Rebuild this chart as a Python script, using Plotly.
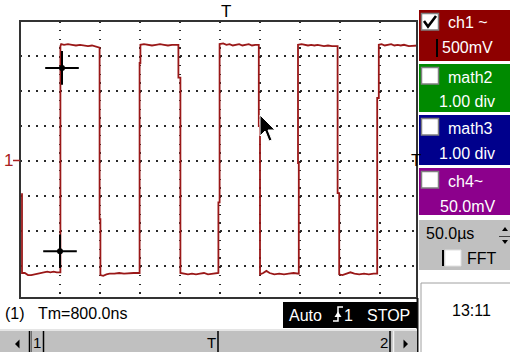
import plotly.graph_objects as go

# ---- Channel 1 acquisition: time in µs, amplitude in V ----
time_us = [
    2.5, 2.5, 6, 10, 14, 18, 22, 26, 30, 34, 38, 42, 46, 50.5,
    50.5, 51.5, 55, 60, 65, 70, 75, 80, 85, 90, 95, 99.5,
    99.5, 100.5, 100.5, 104, 108, 112, 118, 124, 130, 136, 142, 149.5,
    149.5, 150.5, 150.5, 155, 160, 165, 170, 175, 180, 185, 190, 198,
    198, 200.5, 200.5, 205, 210, 215, 220, 225, 230, 235, 240, 248,
    248, 249.5, 249.5, 254, 258, 262, 266, 270, 274, 278, 282, 286, 290, 294, 298.5,
    298.5, 300, 300, 304, 308, 312, 318, 324, 330, 336, 342, 348.5,
    348.5, 347.5, 347.5, 352, 356, 360, 364, 368, 372, 376, 380, 385, 390, 397,
    397, 399, 399, 403, 408, 413, 418, 424, 430, 436, 442, 446.5,
    446.5, 448.5, 448.5, 452, 456, 460, 464, 468, 472, 476, 480, 486, 492, 497.5,
]
ch1_volts = [
    -0.46, -1.60, -1.60, -1.63, -1.63, -1.62, -1.61, -1.59, -1.59, -1.58, -1.59, -1.58, -1.59, -1.59,
    1.64, 1.67, 1.66, 1.67, 1.66, 1.65, 1.66, 1.65, 1.64, 1.65, 1.63, 1.62,
    -0.83, -0.83, -1.63, -1.64, -1.62, -1.61, -1.61, -1.60, -1.61, -1.60, -1.60, -1.60,
    1.40, 1.40, 1.66, 1.67, 1.66, 1.65, 1.66, 1.67, 1.66, 1.65, 1.66, 1.66,
    1.19, 1.19, -1.60, -1.61, -1.62, -1.61, -1.62, -1.61, -1.60, -1.62, -1.61, -1.60,
    -0.59, -0.59, 1.67, 1.68, 1.66, 1.67, 1.65, 1.66, 1.67, 1.65, 1.66, 1.67, 1.65, 1.66, 1.66,
    0.50, 0.50, -1.62, -1.60, -1.57, -1.60, -1.62, -1.61, -1.62, -1.61, -1.60, -1.61,
    -0.03, -0.03, 1.66, 1.67, 1.66, 1.65, 1.66, 1.65, 1.66, 1.65, 1.64, 1.65, 1.64, 1.64,
    -0.46, -0.46, -1.62, -1.63, -1.61, -1.59, -1.61, -1.62, -1.61, -1.62, -1.61, -1.61,
    0.90, 0.90, 1.66, 1.67, 1.65, 1.66, 1.67, 1.65, 1.66, 1.65, 1.66, 1.64, 1.65, 1.65,
]

# measurement cursors (time µs, level V)
cursor_time_us = [52.5, 50.0]
cursor_volts = [1.33, -1.29]

# side-panel channel settings
channel_labels = ["ch1 ~", "math2", "math3", "ch4~"]
channel_scales = ["500mV", "1.00 div", "1.00 div", "50.0mV"]
channel_colors = ["#8e0000", "#008a00", "#00008c", "#8c008c"]
channel_checked = [True, False, False, False]

timebase = "50.0µs"
clock = "13:11"
measurement = "Tm=800.0ns"
trigger_mode = "Auto"
run_state = "STOP"

TIME_PER_DIV = 50.0
VOLTS_PER_DIV = 0.5

# ---- page geometry (pixels) ----
W, H = 510, 352
PL, PT, PW, PH = 20, 21, 398, 278
PX_PER_US = 0.8
PX_PER_V = 70.0
FONT = "Liberation Sans, Arial, sans-serif"


def P(x, y):
    """page pixel -> paper coordinates"""
    return (x - PL) / PW, (PT + PH - y) / PH


shapes = []
annotations = []


def rect(x0, y0, x1, y1, fill, line="rgba(0,0,0,0)", lw=0):
    a, b = P(x0, y1)
    c, d = P(x1, y0)
    shapes.append(dict(type="rect", xref="paper", yref="paper", x0=a, y0=b, x1=c, y1=d,
                       fillcolor=fill, line=dict(color=line, width=lw), layer="above"))


def seg(x0, y0, x1, y1, color, w):
    a, b = P(x0, y0)
    c, d = P(x1, y1)
    shapes.append(dict(type="line", xref="paper", yref="paper", x0=a, y0=b, x1=c, y1=d,
                       line=dict(color=color, width=w), layer="above"))


def poly(points, fill, line="rgba(0,0,0,0)", lw=0, closed=True):
    path = ""
    for i, (x, y) in enumerate(points):
        u, v = P(x, y)
        path += ("M" if i == 0 else "L") + f"{u:.5f},{v:.5f}"
    if closed:
        path += "Z"
    shapes.append(dict(type="path", xref="paper", yref="paper", path=path,
                       fillcolor=fill, line=dict(color=line, width=lw), layer="above"))


def label(x, y, text, size, color="black", anchor="left"):
    u, v = P(x, y)
    annotations.append(dict(xref="paper", yref="paper", x=u, y=v, text=text, showarrow=False,
                            xanchor=anchor, yanchor="middle", borderpad=0,
                            font=dict(family=FONT, size=size, color=color)))


fig = go.Figure()

# waveform
fig.add_trace(go.Scatter(x=time_us, y=ch1_volts, mode="lines",
                         line=dict(color="#9a1818", width=1.8), hoverinfo="skip"))
# cursors
fig.add_trace(go.Scatter(x=cursor_time_us, y=cursor_volts, mode="markers",
                         marker=dict(symbol="cross-thin", size=24,
                                     line=dict(color="black", width=2)), hoverinfo="skip"))
fig.add_trace(go.Scatter(x=cursor_time_us, y=cursor_volts, mode="markers",
                         marker=dict(symbol="circle", size=6, color="black"), hoverinfo="skip"))

# screen frame
rect(20, 21, 417, 298, "rgba(0,0,0,0)", "#333333", 2)
seg(417.5, 298, 417.5, 352, "#111111", 2)

# trigger markers and channel ground marker
label(220, 12, "T", 17)
label(410, 160.5, "T", 17)
label(8, 160.5, "1", 17, "#a82020", "center")
seg(13, 160.5, 20, 160.5, "#a82020", 1.5)

# mouse pointer (tip on the trace)
tip_x = PL + 300 * PX_PER_US
tip_y = PT + (2.0 - 0.657) * PX_PER_V
arrow = [(0, 0), (0, 21), (5, 16), (9, 26), (12, 25), (8, 15), (15, 15)]
poly([(tip_x + dx, tip_y + dy) for dx, dy in arrow], "black", "white", 1)

# ---- channel boxes ----
box_tops = [10, 64, 115, 168]
box_bottoms = [61, 112, 165, 215]
for lab, scale, col, chk, top, bot in zip(channel_labels, channel_scales, channel_colors,
                                          channel_checked, box_tops, box_bottoms):
    rect(419, top, 511, bot, col)
    rect(421.5, top + 3.5, 438.5, top + 20, "white", "#808080", 1.5)
    if chk:
        poly([(424, top + 11), (428, top + 16.5), (436, top + 6)], "rgba(0,0,0,0)",
             "black", 2.6, closed=False)
    label(447, top + 13, lab, 16, "white")
    label(467, top + 38, scale, 16, "white", "center")
seg(437, 39, 437, 57, "black", 2)

# timebase box
rect(419, 220, 511, 270, "#c0c0c0")
label(425, 233, timebase, 16)
seg(499, 236.5, 511, 236.5, "#404040", 1)
poly([(502, 231), (508, 231), (505, 227)], "black")
poly([(502, 240), (508, 240), (505, 244)], "black")
seg(443, 250, 443, 266, "black", 2)
rect(445, 250, 461, 266, "white", "#e0e0e0", 1)
label(466, 258, "FFT", 16)

# clock box
rect(421, 283, 512, 354, "white", "#a0a0a0", 1)
label(471, 310, clock, 16, "black", "center")

# status line
label(4, 313, "(1)", 16)
label(37, 313, measurement, 16)
rect(283, 302, 417, 328, "black")
label(288, 315, trigger_mode, 16, "white")
poly([(333, 321), (338, 321), (338, 307), (343, 307)], "rgba(0,0,0,0)", "white", 1.5, closed=False)
poly([(334.5, 317), (341.5, 317), (338, 311.5)], "white")
label(343, 315, "1", 16, "white")
label(366, 315, run_state, 16, "white")

# horizontal position scrollbar
rect(0, 329, 417, 353, "#c0c0c0")
seg(0, 330, 417, 330, "#f2f2f2", 1.5)
poly([(15, 344), (19.5, 339.5), (19.5, 348.5)], "black")
seg(29.5, 331, 29.5, 352, "black", 1.5)
seg(31.5, 331, 31.5, 352, "#707070", 1)
label(37, 342, "1", 15, "black", "center")
seg(43.5, 331, 43.5, 352, "black", 1.5)
label(211, 342, "T", 15, "black", "center")
seg(218, 331, 218, 352, "black", 1.5)
label(383.5, 342, "2", 15, "black", "center")
seg(390, 331, 390, 352, "black", 1.5)
seg(393.5, 331, 393.5, 352, "#f2f2f2", 1.5)
poly([(408, 344), (403.5, 339.5), (403.5, 348.5)], "black")

fig.update_layout(
    width=W, height=H,
    margin=dict(l=PL, r=W - PL - PW, t=PT, b=H - PT - PH, pad=0),
    paper_bgcolor="white", plot_bgcolor="white",
    showlegend=False,
    shapes=shapes, annotations=annotations,
    xaxis=dict(range=[0, PW / PX_PER_US], tick0=0, dtick=TIME_PER_DIV,
               showgrid=True, gridcolor="#2a2a2a", gridwidth=1.5, griddash="1.5px,7.25px",
               showticklabels=False, ticks="", zeroline=False, showline=False, fixedrange=True),
    yaxis=dict(range=[2.0 - PH / PX_PER_V, 2.0], tick0=0, dtick=VOLTS_PER_DIV,
               showgrid=True, gridcolor="#2a2a2a", gridwidth=1.5, griddash="1.5px,6.5px",
               showticklabels=False, ticks="", zeroline=False, showline=False, fixedrange=True),
)

fig.write_html("out.html")
